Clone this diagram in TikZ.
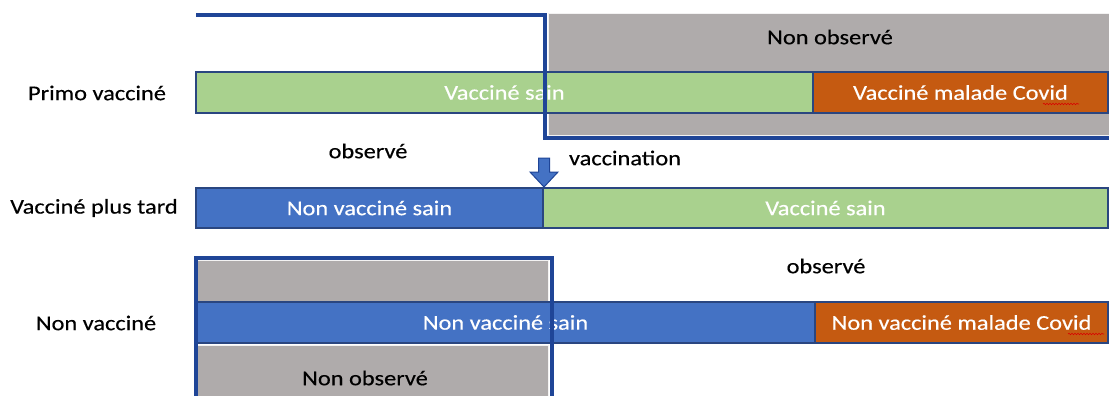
\documentclass[tikz,border=0pt]{standalone}
\usepackage{fontspec}
\setmainfont{Carlito}[FakeStretch=1.16, FakeBold=0.35]
\usetikzlibrary{decorations.pathmorphing}
\definecolor{cgreen}{HTML}{A9D18E}
\definecolor{corange}{HTML}{C55A11}
\definecolor{cblue}{HTML}{4472C4}
\definecolor{cgrey}{HTML}{AFABAB}
\definecolor{cframe}{HTML}{1F4597}
\definecolor{cedge}{HTML}{2A4680}
\tikzset{
  bar/.style={draw=cedge, line width=1.3pt, inner sep=0pt, outer sep=0pt, text=white,
    font=\fontsize{21}{24}\selectfont},
  greenbar/.style={bar, fill=cgreen},
  orangebar/.style={bar, fill=corange},
  bluebar/.style={bar, fill=cblue},
  greybox/.style={draw=white!85!cgrey, line width=1pt, fill=cgrey, inner sep=0pt, outer sep=0pt},
  lbl/.style={text=black, inner sep=0pt, font=\fontsize{21}{24}\selectfont},
  frame/.style={draw=cframe, line width=3.5pt},
  squiggle/.style={draw=red!85!black, line width=0.6pt, decorate,
    decoration={snake, amplitude=0.7pt, segment length=3pt}},
  blockarrow/.style={fill=cblue, draw=cframe, line width=1pt}
}
\begin{document}
\begin{tikzpicture}[x=1pt,y=-1pt]
\useasboundingbox (0,0) rectangle (1109,396);
% ---- row 1 ----
\node[greybox, minimum width=561pt, minimum height=121pt] (g1) at (828.5,74.5) {};
\node[lbl] (t1) at (830,37) {Non observé};
\node[greenbar, minimum width=617pt, minimum height=41pt] (vs1) at (504.5,92.5) {Vacciné sain};
\node[orangebar, minimum width=295pt, minimum height=41pt] (vm1) at (960.5,92.5) {Vacciné malade Covid};
\node[lbl] (l1) at (97,93) {Primo vacciné};
\coordinate (f1a) at (196,15);
\coordinate (f1b) at (545,15);
\coordinate (f1c) at (545,138);
\coordinate (f1d) at (1109,138);
\draw[frame] (f1a) -- (f1b) -- (f1c) -- (f1d);
\draw[squiggle] (1043,104) -- (1079,104);
% ---- labels between rows ----
\node[lbl] (o1) at (368,151) {observé};
\node[lbl] (vac) at (625,158) {vaccination};
% ---- row 2 ----
\node[bluebar, minimum width=347pt, minimum height=40pt] (nv2) at (369.5,208) {Non vacciné sain};
\node[greenbar, minimum width=565pt, minimum height=40pt] (vs2) at (825.5,208) {Vacciné sain};
\node[lbl] (l2) at (94,208) {Vacciné plus tard};
\draw[blockarrow] (538.5,158) -- (549.5,158) -- (549.5,172) -- (558,172) -- (544,187)
  -- (530,172) -- (538.5,172) -- cycle;
% ---- row 3 ----
\node[lbl] (o2) at (826,266) {observé};
\node[greybox, minimum width=351pt, minimum height=41pt] (g3a) at (372.5,281) {};
\node[greybox, minimum width=351pt, minimum height=52pt] (g3b) at (372.5,371) {};
\node[lbl] (t3) at (365,378) {Non observé};
\node[bluebar, minimum width=619pt, minimum height=41pt] (nv3) at (505.5,322.5) {Non vacciné sain};
\node[orangebar, minimum width=293pt, minimum height=41pt] (nm3) at (961.5,322.5) {Non vacciné malade Covid};
\node[lbl] (l3) at (96,323) {Non vacciné};
\coordinate (f3a) at (196,400);
\coordinate (f3b) at (196,258);
\coordinate (f3c) at (552,258);
\coordinate (f3d) at (552,400);
\draw[frame] (f3a) -- (f3b) -- (f3c) -- (f3d);
\draw[squiggle] (1068,334) -- (1104,334);
\end{tikzpicture}
\end{document}
